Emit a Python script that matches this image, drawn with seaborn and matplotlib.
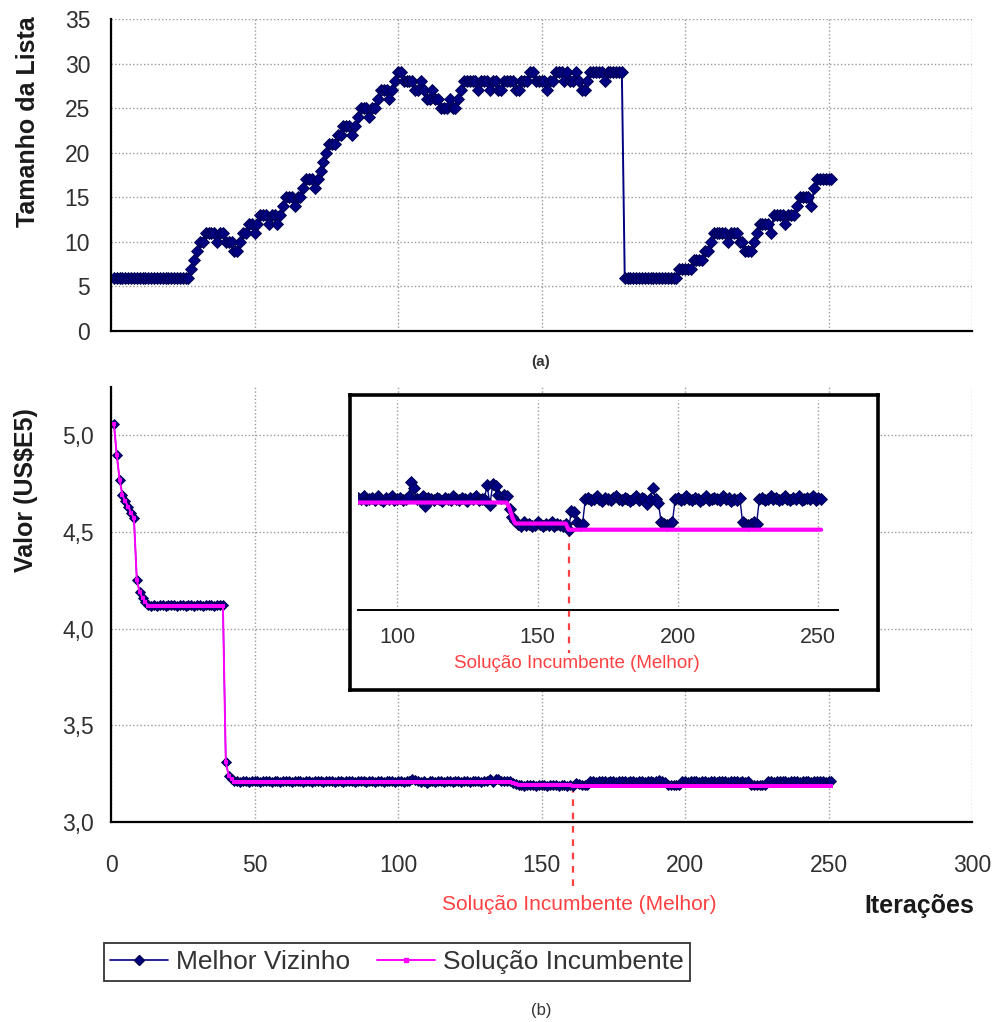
import numpy as np
import matplotlib
matplotlib.use("Agg")
import matplotlib.pyplot as plt
from matplotlib.lines import Line2D
import seaborn as sns

# ---------------- data ----------------
# (a) Tamanho da Lista: run-length encoded integer steps (value, repeat count)
tabu_values = [6, 7, 8, 9, 10, 11, 10, 11, 10, 9,
               10, 11, 12, 11, 12, 13, 12, 13, 12, 13,
               14, 15, 14, 15, 16, 17, 16, 17, 18, 19,
               20, 21, 22, 22, 23, 22, 23, 24, 25, 24,
               25, 26, 27, 26, 27, 28, 29, 28, 28, 27,
               28, 27, 26, 27, 26, 25, 26, 25, 26, 27,
               28, 28, 27, 28, 27, 28, 27, 28, 27, 28,
               29, 28, 28, 27, 28, 29, 28, 29, 28, 29,
               28, 27, 28, 29, 29, 28, 29, 6, 7, 8,
               9, 10, 11, 10, 11, 10, 9, 10, 11, 12,
               11, 13, 12, 13, 14, 15, 14, 16, 17]
tabu_counts = [27, 1, 1, 1, 2, 4, 1, 2, 3, 2,
               1, 2, 2, 1, 1, 3, 1, 2, 1, 1,
               1, 3, 1, 2, 1, 3, 1, 1, 1, 1,
               1, 3, 1, 1, 3, 1, 1, 1, 3, 1,
               2, 1, 3, 1, 1, 1, 2, 1, 3, 2,
               1, 1, 2, 1, 2, 3, 1, 2, 1, 1,
               1, 4, 1, 3, 1, 2, 2, 4, 2, 3,
               2, 2, 2, 1, 2, 3, 1, 1, 2, 1,
               1, 2, 1, 1, 4, 1, 6, 19, 5, 4,
               2, 1, 5, 1, 3, 2, 3, 1, 1, 4,
               1, 4, 1, 3, 1, 4, 1, 1, 6]

# (b) Melhor Vizinho, one value per iteration (1..251), US$E5
melhor_vizinho = (
    [5.06, 4.90, 4.77, 4.69, 4.66, 4.63, 4.60, 4.57, 4.25, 4.19, 4.16, 4.14]
    + [4.122, 4.118, 4.121, 4.119, 4.123, 4.12, 4.118, 4.121, 4.12, 4.122,
       4.119, 4.12, 4.121, 4.118, 4.122, 4.12, 4.119, 4.121, 4.12, 4.118,
       4.122, 4.12, 4.121, 4.119, 4.12, 4.122, 4.12]
    + [3.31, 3.24, 3.22]
    + [3.210, 3.212, 3.209, 3.211, 3.210, 3.208, 3.211, 3.212, 3.210, 3.209,
       3.211, 3.210, 3.212, 3.209, 3.210, 3.211, 3.208, 3.210, 3.212, 3.210,
       3.209, 3.211, 3.210, 3.212, 3.209, 3.210, 3.211, 3.208, 3.210, 3.212,
       3.210, 3.209, 3.211, 3.210, 3.212, 3.209, 3.210, 3.211, 3.208, 3.210,
       3.212, 3.210, 3.209, 3.211, 3.210, 3.212, 3.209]
    + [3.210, 3.211, 3.209, 3.212, 3.210, 3.208, 3.211, 3.210, 3.212, 3.209,
       3.210, 3.211, 3.209, 3.210, 3.212]
    + [3.224, 3.219]
    + [3.210, 3.209, 3.212, 3.204, 3.211, 3.210, 3.209, 3.211, 3.210, 3.208,
       3.211, 3.210, 3.209, 3.212, 3.210, 3.209, 3.211, 3.210, 3.208, 3.211,
       3.210, 3.212, 3.209, 3.210, 3.210]
    + [3.221, 3.205, 3.222, 3.220, 3.213, 3.211, 3.213, 3.212, 3.202]
    + [3.195, 3.192, 3.190, 3.188, 3.191, 3.189, 3.190, 3.188, 3.189, 3.191,
       3.190, 3.188, 3.190, 3.189, 3.191, 3.188, 3.190, 3.189, 3.188, 3.190]
    + [3.185]
    + [3.200, 3.199, 3.191, 3.189, 3.190]
    + [3.210, 3.211, 3.209, 3.210, 3.212, 3.210, 3.208, 3.211, 3.210, 3.209,
       3.211, 3.212, 3.210, 3.209, 3.211, 3.210, 3.208, 3.210, 3.212, 3.209,
       3.211, 3.210, 3.206, 3.210]
    + [3.219, 3.210, 3.207]
    + [3.191, 3.190, 3.189, 3.190, 3.191]
    + [3.210, 3.211, 3.209, 3.210, 3.212, 3.210, 3.209, 3.211, 3.210, 3.208,
       3.210, 3.212, 3.209, 3.210, 3.211, 3.210, 3.209, 3.212, 3.210, 3.211,
       3.208, 3.210, 3.209, 3.211]
    + [3.191, 3.190, 3.189, 3.190, 3.191, 3.190]
    + [3.210, 3.211, 3.209, 3.210, 3.212, 3.210, 3.211, 3.209, 3.210, 3.212,
       3.210, 3.209, 3.211, 3.210, 3.212, 3.209, 3.210, 3.211, 3.210, 3.212,
       3.209, 3.211, 3.210]
)

# (b) Solução Incumbente, run-length encoded (value, repeat count)
incumbente_values = [5.06, 4.90, 4.77, 4.69, 4.66, 4.63, 4.60, 4.57, 4.25, 4.19,
                     4.16, 4.14, 4.118, 3.31, 3.24, 3.22, 3.207, 3.202, 3.195,
                     3.190, 3.185]
incumbente_counts = [1, 1, 1, 1, 1, 1, 1, 1, 1, 1,
                     1, 1, 27, 1, 1, 1, 97, 1, 1,
                     19, 91]

best_iteration = 161

x_ticks = [0, 50, 100, 150, 200, 250, 300]
top_yticks = [0, 5, 10, 15, 20, 25, 30, 35]
bottom_yticks = [3.0, 3.5, 4.0, 4.5, 5.0]
bottom_yticklabels = ["3,0", "3,5", "4,0", "4,5", "5,0"]
inset_xticks = [100, 150, 200, 250]

series_names = ["Melhor Vizinho", "Solução Incumbente"]

# ---------------- derived arrays ----------------
tamanho = np.repeat(tabu_values, tabu_counts)
incumbente = np.repeat(incumbente_values, incumbente_counts)
melhor = np.array(melhor_vizinho)
iteracoes = np.arange(1, len(melhor) + 1)
assert len(tamanho) == len(melhor) == len(incumbente) == 251

# ---------------- style ----------------
sns.set_theme(style="white")
plt.rcParams["font.family"] = ["Liberation Sans", "DejaVu Sans"]

NAVY = "#000080"
MAGENTA = "#FF00FF"
RED = "#FF4040"
TICKC = "#303030"
GRID = dict(color="#9a9a9a", linestyle=(0, (1, 1.6)), linewidth=1.0)

W, H = 1001, 1022
fig = plt.figure(figsize=(W / 100, H / 100), dpi=100)
fig.patch.set_facecolor("white")


def fx(px):
    return px / W


def fy(py):
    return 1 - py / H


def style_axes(ax):
    for s in ["top", "right"]:
        ax.spines[s].set_visible(False)
    for s in ["left", "bottom"]:
        ax.spines[s].set_color("black")
        ax.spines[s].set_linewidth(1.6)
    ax.grid(True, **GRID)
    ax.set_axisbelow(True)
    ax.set_facecolor("white")


# ---------------- (a) top chart ----------------
ax1 = fig.add_axes([fx(111), fy(331), fx(972) - fx(111), fy(19) - fy(331)])
style_axes(ax1)
sns.lineplot(x=iteracoes, y=tamanho, ax=ax1, color=NAVY, linewidth=1.4,
             marker="D", markersize=6.6, markeredgecolor="#00004a",
             markeredgewidth=0.6, estimator=None, sort=False)
ax1.set_xlim(0, 300)
ax1.set_ylim(0, 35)
ax1.set_xticks(x_ticks)
ax1.set_yticks(top_yticks)
ax1.set_yticklabels([str(v) for v in top_yticks])
ax1.tick_params(axis="x", direction="out", length=7, width=1.4,
                color="black", labelbottom=False)
ax1.tick_params(axis="y", direction="out", length=6, width=1.4,
                color="black", labelsize=16.5, labelcolor=TICKC, pad=9)
ax1.set_xlabel("")
ax1.set_ylabel("")
fig.text(fx(28), fy(122), "Tamanho da Lista", rotation=90, ha="center",
         va="center", fontsize=18, fontweight="bold", color="#1a1a1a")
fig.text(fx(541), fy(362), "(a)", ha="center", va="center", fontsize=11,
         fontweight="bold", color="#333333")

# ---------------- (b) bottom chart ----------------
ax2 = fig.add_axes([fx(111), fy(822), fx(972) - fx(111), fy(387) - fy(822)])
style_axes(ax2)
sns.lineplot(x=iteracoes, y=melhor, ax=ax2, color=NAVY, linewidth=1.0,
             marker="D", markersize=5.4, markeredgecolor="#00004a",
             markeredgewidth=0.6, estimator=None, sort=False)
sns.lineplot(x=iteracoes, y=incumbente, ax=ax2, color=MAGENTA, linewidth=1.4,
             marker="s", markersize=2.8, markeredgewidth=0,
             estimator=None, sort=False)
ax2.set_xlim(0, 300)
ax2.set_ylim(3.0, 5.25)
ax2.set_xticks(x_ticks)
ax2.set_xticklabels([str(v) for v in x_ticks])
ax2.set_yticks(bottom_yticks)
ax2.set_yticklabels(bottom_yticklabels)
ax2.tick_params(axis="x", direction="out", length=7, width=1.4,
                color="black", labelsize=16.5, labelcolor=TICKC, pad=16)
ax2.tick_params(axis="y", direction="out", length=6, width=1.4,
                color="black", labelsize=16.5, labelcolor=TICKC, pad=6)
ax2.set_xlabel("")
ax2.set_ylabel("")
best_val = incumbente[best_iteration - 1]
y_lo, y_hi = ax2.get_ylim()
ax2.plot([best_iteration, best_iteration],
         [(best_val - y_lo) / (y_hi - y_lo), -0.158],
         transform=ax2.get_xaxis_transform(),
         color=RED, lw=1.6, ls=(0, (3, 3)), clip_on=False, zorder=1)
fig.text(fx(579), fy(904), "Solução Incumbente (Melhor)", ha="center",
         va="center", fontsize=15, color=RED)
fig.text(fx(26), fy(490), "Valor (US\\$E5)", rotation=90, ha="center",
         va="center", fontsize=18, fontweight="bold", color="#1a1a1a")
fig.text(fx(919), fy(906), "Iterações", ha="center", va="center",
         fontsize=18, fontweight="bold", color="#1a1a1a")

# ---------------- inset ----------------
frame = fig.add_axes([fx(350), fy(690), fx(878) - fx(350), fy(395) - fy(690)])
frame.set_xticks([])
frame.set_yticks([])
frame.set_facecolor("white")
for s in frame.spines.values():
    s.set_linewidth(2.6)
    s.set_color("black")
frame.set_zorder(5)

axi = fig.add_axes([fx(358), fy(610), fx(838) - fx(358), fy(400) - fy(610)])
axi.set_zorder(6)
axi.patch.set_alpha(0)
for s in ["top", "right", "left"]:
    axi.spines[s].set_visible(False)
axi.spines["bottom"].set_color("black")
axi.spines["bottom"].set_linewidth(1.4)
axi.grid(True, axis="x", **GRID)
axi.set_axisbelow(True)
sns.lineplot(x=iteracoes, y=melhor, ax=axi, color=NAVY, linewidth=1.0,
             marker="D", markersize=6.0, markeredgecolor="#00004a",
             markeredgewidth=0.6, estimator=None, sort=False)
sns.lineplot(x=iteracoes, y=incumbente, ax=axi, color=MAGENTA, linewidth=3.0,
             estimator=None, sort=False)
axi.set_xlim(86, 257)
axi.set_ylim(3.12, 3.29)
axi.set_xticks(inset_xticks)
axi.set_xticklabels([str(v) for v in inset_xticks])
axi.set_yticks([])
axi.tick_params(axis="x", direction="out", length=6, width=1.2,
                color="black", labelsize=15.5, labelcolor=TICKC, pad=6)
axi.set_xlabel("")
axi.set_ylabel("")
trans_i = axi.get_xaxis_transform()
yi_lo, yi_hi = axi.get_ylim()
axi.plot([best_iteration, best_iteration],
         [(best_val - yi_lo) / (yi_hi - yi_lo), -0.205],
         transform=trans_i, color=RED, lw=1.6, ls=(0, (3, 3)),
         clip_on=False, zorder=1)
fig.text(fx(577), fy(664), "Solução Incumbente (Melhor)", ha="center",
         va="center", fontsize=13.5, color=RED, zorder=10)

# ---------------- legend ----------------
handles = [
    Line2D([0], [0], color=NAVY, lw=1.2, marker="D", markersize=5,
           markeredgecolor="#00004a"),
    Line2D([0], [0], color=MAGENTA, lw=1.4, marker="s", markersize=2.5),
]
leg = fig.legend(handles, series_names, loc="center",
                 bbox_to_anchor=(fx(397), fy(962)), ncol=2, frameon=True,
                 fancybox=False, fontsize=19, handlelength=2.2,
                 handletextpad=0.3, columnspacing=1.0, borderpad=0.25)
leg.get_frame().set_edgecolor("black")
leg.get_frame().set_linewidth(1.3)
for t in leg.get_texts():
    t.set_color("#333333")
fig.text(fx(541), fy(1010), "(b)", ha="center", va="center", fontsize=12,
         color="#333333")

fig.savefig("out.png", dpi=100, facecolor="white")
